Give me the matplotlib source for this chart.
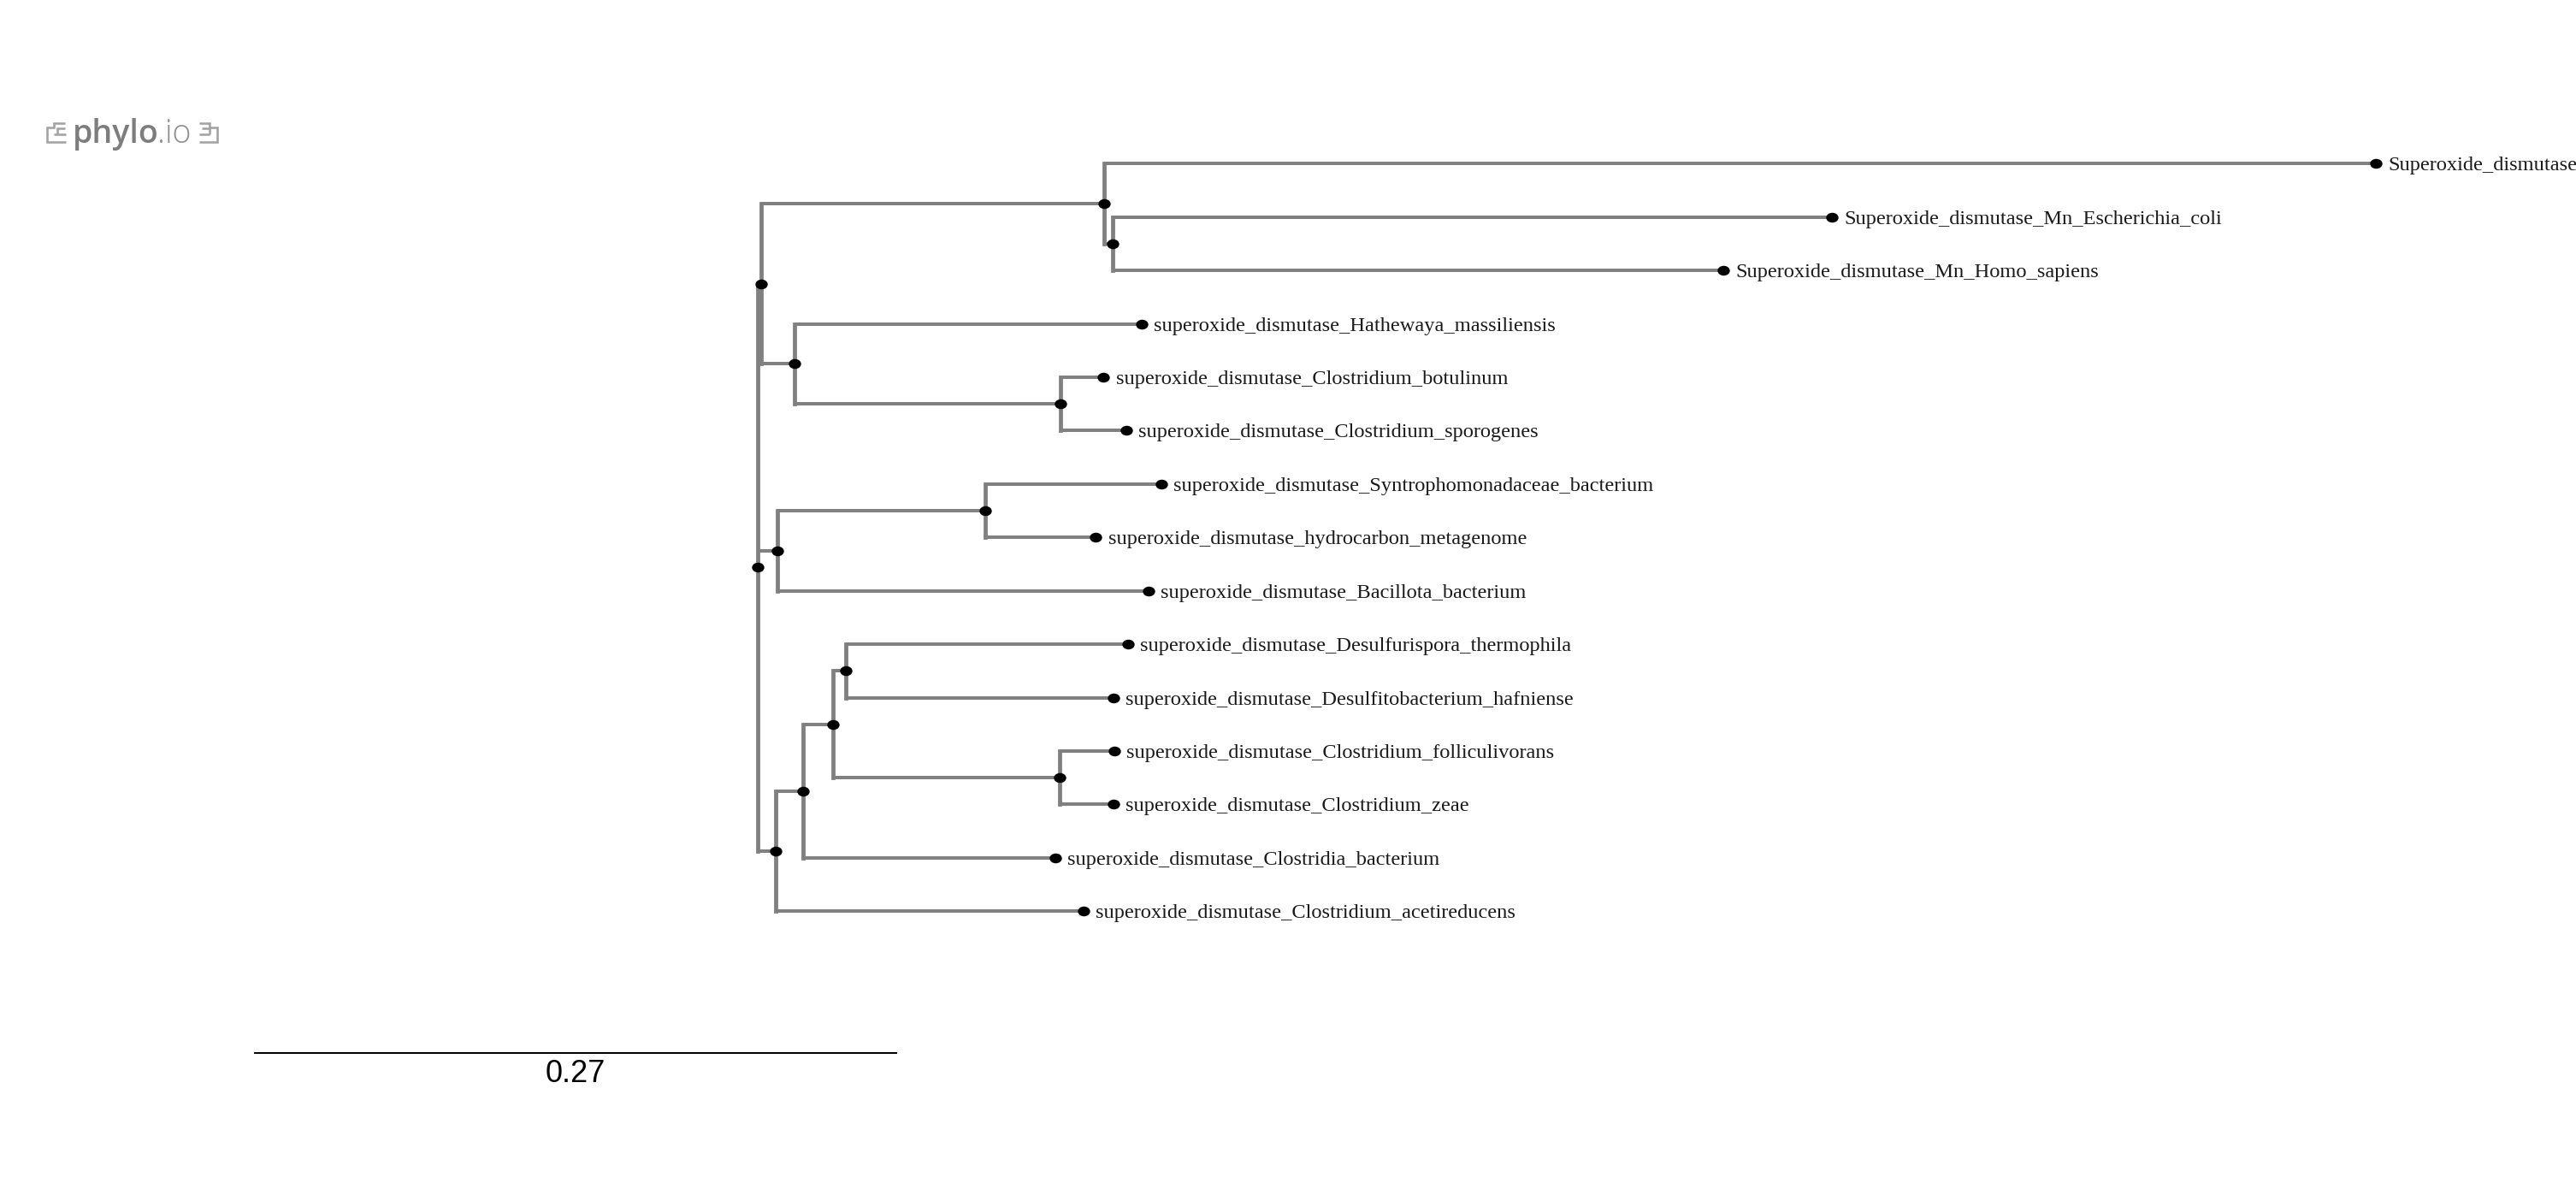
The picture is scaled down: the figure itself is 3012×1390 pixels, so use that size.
import matplotlib
matplotlib.use("Agg")
import matplotlib.pyplot as plt
from matplotlib.markers import MarkerStyle
from matplotlib.transforms import Affine2D

# ---- tree data: leaves listed top to bottom, depth in substitutions/site from root
leaf_names = [
    "Superoxide_dismutase",
    "Superoxide_dismutase_Mn_Escherichia_coli",
    "Superoxide_dismutase_Mn_Homo_sapiens",
    "superoxide_dismutase_Hathewaya_massiliensis",
    "superoxide_dismutase_Clostridium_botulinum",
    "superoxide_dismutase_Clostridium_sporogenes",
    "superoxide_dismutase_Syntrophomonadaceae_bacterium",
    "superoxide_dismutase_hydrocarbon_metagenome",
    "superoxide_dismutase_Bacillota_bacterium",
    "superoxide_dismutase_Desulfurispora_thermophila",
    "superoxide_dismutase_Desulfitobacterium_hafniense",
    "superoxide_dismutase_Clostridium_folliculivorans",
    "superoxide_dismutase_Clostridium_zeae",
    "superoxide_dismutase_Clostridia_bacterium",
    "superoxide_dismutase_Clostridium_acetireducens",
]
leaf_depth = [0.6789, 0.4507, 0.4051, 0.1611, 0.1450, 0.1545, 0.1692, 0.1418,
              0.1640, 0.1553, 0.1493, 0.1496, 0.1493, 0.1247, 0.1367]

node_names = ["root", "c1", "a", "a2", "h", "h2", "s", "s2", "b", "b2", "b3", "b4", "b5"]
node_depth = [0.0, 0.0014, 0.1453, 0.1490, 0.0154, 0.1270, 0.0084, 0.0954,
              0.0074, 0.0191, 0.0317, 0.0368, 0.1267]
# children: an int is a leaf index, a string is an internal node
node_children = [
    ["c1", "s", "b"], ["a", "h"], [0, "a2"], [1, 2], [3, "h2"], [4, 5],
    ["s2", 8], [6, 7], ["b2", 14], ["b3", 13], ["b4", "b5"], [9, 10], [11, 12],
]
scale_value = 0.27
scale_label = "0.27"
logo_main = "phylo"
logo_tail = ".io"

# ---- style / layout
W, H = 3012, 1390
GRAY = "#808080"
PX_PER_UNIT = 2787.0
ROOT_PX = 886.0
TOP_ROW_PX = 191.3
ROW_PX = 62.43
px = 0.72  # points per pixel at dpi 100

plt.rcParams["font.family"] = ["Liberation Serif", "DejaVu Serif"]
fig = plt.figure(figsize=(W / 100, H / 100), dpi=100, facecolor="white")
ax = fig.add_axes([0, 0, 1, 1])
ax.set_xlim(-ROOT_PX / PX_PER_UNIT, (W - ROOT_PX) / PX_PER_UNIT)
ax.set_ylim((H - TOP_ROW_PX) / ROW_PX, -TOP_ROW_PX / ROW_PX)
ax.axis("off")

depth = dict(zip(node_names, node_depth))
children = dict(zip(node_names, node_children))


def position(key):
    if isinstance(key, int):
        return leaf_depth[key], float(key)
    kids = children[key]
    return depth[key], (position(kids[0])[1] + position(kids[-1])[1]) / 2


for name in node_names:
    x0, _ = position(name)
    pts = [position(k) for k in children[name]]
    ax.plot([x0, x0], [pts[0][1], pts[-1][1]], color=GRAY, lw=4.8 * px,
            solid_capstyle="projecting", zorder=2)
    for xc, yc in pts:
        ax.plot([x0, xc], [yc, yc], color=GRAY, lw=4.0 * px,
                solid_capstyle="butt", zorder=2)

pos = [position(n) for n in node_names] + [position(i) for i in range(len(leaf_names))]
dot = MarkerStyle("o", transform=Affine2D().scale(1.25, 1.0))
ax.scatter([p[0] for p in pos], [p[1] for p in pos], s=(11.5 * px) ** 2, marker=dot,
           color="black", linewidths=0, zorder=3)

for i, label in enumerate(leaf_names):
    ax.annotate(label, (leaf_depth[i], i), xytext=(14.4 * px, 0),
                textcoords="offset points", ha="left", va="center_baseline",
                fontsize=17.6, color="#1a1a1a", annotation_clip=False)

# ---- scale bar, in tree units
bar_left = (297 - ROOT_PX) / PX_PER_UNIT
bar_y = (1231 - TOP_ROW_PX) / ROW_PX
ax.plot([bar_left, bar_left + scale_value], [bar_y, bar_y], color="black",
        lw=2.0 * px, solid_capstyle="butt")
ax.text(bar_left + scale_value / 2, (1265 - TOP_ROW_PX) / ROW_PX, scale_label,
        ha="center", va="baseline", fontsize=26, family="Liberation Sans", color="black")

# ---- logo, in pixel coordinates
logo = fig.add_axes([0, 0, 1, 1], facecolor="none")
logo.set_xlim(0, W)
logo.set_ylim(H, 0)
logo.axis("off")
LOGO = "#a3a3a3"
for xs, ys in [
    ([77, 55, 55, 63, 63, 76], [166, 166, 149, 149, 144, 144]),
    ([63, 77], [157, 157]),
    ([67, 67, 76], [157, 150, 150]),
    ([233, 254, 254, 245, 245, 233], [166, 166, 149, 149, 144, 144]),
    ([233, 245], [157, 157]),
    ([245, 245, 236], [157, 150, 150]),
]:
    logo.plot(xs, ys, color=LOGO, lw=2.6 * px, solid_joinstyle="miter", solid_capstyle="butt")
logo.text(85, 167, logo_main, family="Open Sans", fontsize=27, color="#7d7d7d",
          ha="left", va="baseline", fontweight="semibold")
logo.text(184, 167, logo_tail, family="Open Sans", fontsize=27, color="#8f8f8f",
          ha="left", va="baseline", fontweight="light")

fig.savefig("out.png", dpi=100, facecolor="white")
